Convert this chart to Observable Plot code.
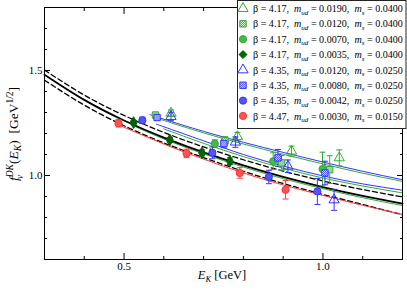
<!DOCTYPE html>
<html><head><meta charset="utf-8">
<script src="https://cdn.jsdelivr.net/npm/d3@7"></script>
<script src="https://cdn.jsdelivr.net/npm/@observablehq/plot@0.6"></script>
<style>
html,body{margin:0;padding:0;background:#fff;}
#wrap{position:relative;width:407px;height:291px;}
#legend{position:absolute;left:237px;top:0px;}
</style></head><body>
<svg width="0" height="0" style="position:absolute">
  <defs>
    <pattern id="chkGreen" width="2" height="2" patternUnits="userSpaceOnUse">
      <rect width="2" height="2" fill="#fff"/><rect width="1" height="1" fill="#33aa33"/><rect x="1" y="1" width="1" height="1" fill="#33aa33"/>
    </pattern>
    <pattern id="chkBlue" width="2" height="2" patternUnits="userSpaceOnUse">
      <rect width="2" height="2" fill="#fff"/><rect width="1" height="1" fill="#3333ff"/><rect x="1" y="1" width="1" height="1" fill="#3333ff"/>
    </pattern>
  </defs>
</svg>
<div id="wrap"></div>
<script>
// ---- legend text ----
const betas = ["4.17","4.17","4.17","4.17","4.35","4.35","4.35","4.47"];
const mud   = ["0.0190","0.0120","0.0070","0.0035","0.0120","0.0080","0.0042","0.0030"];
const ms    = ["0.0400","0.0400","0.0400","0.0400","0.0250","0.0250","0.0250","0.0150"];

// ---- data points (x = E_K, y = f, e = error) ----
const s0x = [0.618,0.785,0.921,1.041], s0y = [1.297,1.185,1.116,1.084], s0e = [0.015,0.02,0.024,0.038];
const s1x = [0.579,0.754,0.896,1.017], s1y = [1.288,1.165,1.06,1.028],  s1e = [0.012,0.02,0.035,0.066];
const s2x = [0.728,0.875,0.999],       s2y = [1.152,1.068,1.031],       s2e = [0.018,0.04,0.08];
const s3x = [0.524,0.615,0.696,0.766], s3y = [1.252,1.169,1.108,1.068], s3e = [0.01,0.012,0.014,0.016];
const s4x = [0.618,0.78,0.912,1.028],  s4y = [1.281,1.159,1.044,0.884], s4e = [0.02,0.025,0.03,0.05];
const s5x = [0.583,0.751,0.887,1.005], s5y = [1.276,1.152,1.084,1.012], s5e = [0.012,0.02,0.04,0.056];
const s6x = [0.546,0.722,0.864,0.986], s6y = [1.263,1.108,0.993,0.924], s6e = [0.015,0.028,0.032,0.062];
const s7x = [0.486,0.657,0.791,0.906], s7y = [1.249,1.105,1.012,0.932], s7e = [0.018,0.02,0.025,0.044];

// ---- fit curves ----
const cx = [0.3,0.4,0.5,0.6,0.7,0.8,0.9,1.0,1.1,1.2];
const blackY = [1.48,1.36,1.262,1.18,1.11,1.048,0.993,0.945,0.903,0.866];
const upperY = [1.502,1.383,1.286,1.205,1.136,1.075,1.021,0.974,0.933,0.898];
const lowerY = [1.454,1.335,1.237,1.155,1.085,1.02,0.962,0.91,0.862,0.813];
const blue1X = [0.565,0.6,0.7,0.8,0.9,1.0,1.1,1.2], blue1Y = [1.29,1.268,1.21,1.158,1.11,1.064,1.02,0.98];
const green1X = [0.58,0.6,0.7,0.8,0.9,1.0,1.1,1.2], green1Y = [1.275,1.262,1.203,1.15,1.101,1.055,1.011,0.972];
const blue2X = [0.58,0.6,0.7,0.8,0.9,1.0,1.1,1.2], blue2Y = [1.245,1.232,1.165,1.1,1.045,0.998,0.96,0.93];
const green2X = [0.6,0.7,0.8,0.9,1.0,1.1,1.2], green2Y = [1.222,1.153,1.09,1.035,0.988,0.95,0.917];
const green3X = [0.52,0.6,0.7,0.8,0.9,1.0,1.1,1.2], green3Y = [1.24,1.174,1.103,1.04,0.985,0.937,0.894,0.857];
const redX = [0.49,0.6,0.7,0.8,0.9,1.0,1.1,1.2], redY = [1.238,1.15,1.078,1.012,0.955,0.905,0.858,0.815];

// ---- ticks ----
const xMajor = [0.5, 1.0], xMinor = [0.4,0.6,0.7,0.8,0.9,1.1];
const yMajor = [1.0, 1.5], yMinor = [0.7,0.8,0.9,1.1,1.2,1.3,1.4,1.6,1.7];

const GREEN = "#33aa33", DKGREEN = "#006400", BLUE = "#3333ff", RED = "#ff3333";

const pts = (xs, ys, es) => xs.map((x, i) => ({x, y: ys[i], e: es[i]}));
const crv = (xs, ys) => xs.map((x, i) => ({x, y: ys[i]}));

const cap = {draw(ctx, size) { const r = Math.sqrt(size / Math.PI); ctx.moveTo(-r, 0); ctx.lineTo(r, 0); }};

const series = [
  {d: pts(s0x,s0y,s0e), c: GREEN, sym: "triangle", fill: "none", r: 3.8},
  {d: pts(s1x,s1y,s1e), c: GREEN, sym: "square", fill: "url(#chkGreen)", r: 3.6},
  {d: pts(s2x,s2y,s2e), c: GREEN, sym: "circle", fill: "#44bb44", r: 3.6},
  {d: pts(s3x,s3y,s3e), c: DKGREEN, sym: "diamond", fill: DKGREEN, r: 3.6},
  {d: pts(s4x,s4y,s4e), c: BLUE, sym: "triangle", fill: "none", r: 3.8},
  {d: pts(s5x,s5y,s5e), c: BLUE, sym: "square", fill: "url(#chkBlue)", r: 3.6},
  {d: pts(s6x,s6y,s6e), c: BLUE, sym: "circle", fill: "#5555ff", r: 3.6},
  {d: pts(s7x,s7y,s7e), c: RED, sym: "circle", fill: "#ff5555", r: 3.6}
];

const marks = [];
const lineOpt = (stroke, w, dash) => ({x: "x", y: "y", stroke, strokeWidth: w, curve: "natural", strokeDasharray: dash});
marks.push(Plot.line(crv(cx, upperY), lineOpt("black", 1.3, "5,3")));
marks.push(Plot.line(crv(cx, lowerY), lineOpt("black", 1.3, "5,3")));
marks.push(Plot.line(crv(blue1X, blue1Y), lineOpt(BLUE, 1)));
marks.push(Plot.line(crv(green1X, green1Y), lineOpt(GREEN, 1)));
marks.push(Plot.line(crv(blue2X, blue2Y), lineOpt(BLUE, 1)));
marks.push(Plot.line(crv(green2X, green2Y), lineOpt(GREEN, 1)));
marks.push(Plot.line(crv(green3X, green3Y), lineOpt(GREEN, 1)));
marks.push(Plot.line(crv(redX, redY), lineOpt(RED, 1)));
marks.push(Plot.line(crv(cx, blackY), lineOpt("black", 1.8)));

for (const s of series) {
  marks.push(Plot.ruleX(s.d, {x: "x", y1: d => d.y - d.e, y2: d => d.y + d.e, stroke: s.c, strokeWidth: 1}));
  marks.push(Plot.dot(s.d, {x: "x", y: d => d.y - d.e, symbol: cap, r: 3, stroke: s.c, strokeWidth: 1}));
  marks.push(Plot.dot(s.d, {x: "x", y: d => d.y + d.e, symbol: cap, r: 3, stroke: s.c, strokeWidth: 1}));
}
for (const s of series) {
  marks.push(Plot.dot(s.d, {x: "x", y: "y", symbol: s.sym, r: s.r, stroke: s.c, fill: s.fill, strokeWidth: 1}));
}

const fmt = d => d.toFixed(1);
const blank = () => "";
marks.push(
  Plot.axisX(xMajor, {anchor: "bottom", tickSize: -6, tickPadding: 9, tickFormat: fmt, label: null, fontSize: 11}),
  Plot.axisX(xMinor, {anchor: "bottom", tickSize: -3, tickFormat: blank, label: null}),
  Plot.axisX(xMajor, {anchor: "top", tickSize: -6, tickFormat: blank, label: null}),
  Plot.axisX(xMinor, {anchor: "top", tickSize: -3, tickFormat: blank, label: null}),
  Plot.axisY(yMajor, {anchor: "left", tickSize: -6, tickPadding: 8, tickFormat: fmt, label: null, fontSize: 11}),
  Plot.axisY(yMinor, {anchor: "left", tickSize: -3, tickFormat: blank, label: null}),
  Plot.axisY(yMajor, {anchor: "right", tickSize: -6, tickFormat: blank, label: null}),
  Plot.axisY(yMinor, {anchor: "right", tickSize: -3, tickFormat: blank, label: null}),
  Plot.frame({stroke: "black", strokeWidth: 1})
);

const chart = Plot.plot({
  width: 407, height: 291,
  marginLeft: 44, marginRight: 5, marginTop: 7, marginBottom: 32,
  x: {domain: [0.3, 1.2]},
  y: {domain: [0.6, 1.8]},
  style: {fontFamily: "'Liberation Serif', serif", fontSize: "11px", background: "#fff", color: "black"},
  marks
});
document.getElementById("wrap").appendChild(chart);

// axis titles with sub/superscripts
const NS = "http://www.w3.org/2000/svg";
function addText(svg, attrs, parts) {
  const t = document.createElementNS(NS, "text");
  for (const k in attrs) t.setAttribute(k, attrs[k]);
  t.setAttribute("font-family", "'Liberation Serif', serif");
  t.style.whiteSpace = "pre";
  for (const p of parts) {
    const s = document.createElementNS(NS, "tspan");
    s.textContent = p.t;
    for (const k in p) if (k !== "t") s.setAttribute(k, p[k]);
    t.appendChild(s);
  }
  svg.appendChild(t);
  return t;
}
addText(chart, {"text-anchor": "middle", "font-size": 13.5, transform: "translate(18,134) rotate(-90)"}, [
  {t: "f", "font-style": "italic"},
  {t: "DK", "font-style": "italic", "font-size": 9.5, dy: -5.5},
  {t: "v", "font-style": "italic", "font-size": 9.5, dx: -15, dy: 10},
  {t: "(", dx: 11, dy: -4.5},
  {t: "E", "font-style": "italic"},
  {t: "K", "font-style": "italic", "font-size": 9.5, dy: 3},
  {t: ")  [GeV", dy: -3},
  {t: "1/2", "font-size": 9.5, dy: -5.5},
  {t: "]", dy: 5.5}
]);
addText(chart, {"text-anchor": "middle", "font-size": 12.5, x: 222, y: 279}, [
  {t: "E", "font-style": "italic"},
  {t: "K", "font-style": "italic", "font-size": 8.5, dy: 3},
  {t: " [GeV]", dy: -3}
]);

// legend
const lg = document.createElementNS(NS, "svg");
lg.setAttribute("id", "legend");
lg.setAttribute("width", 170); lg.setAttribute("height", 130);
const box = document.createElementNS(NS, "rect");
box.setAttribute("x", 0.5); box.setAttribute("y", 0.5); box.setAttribute("width", 168.5); box.setAttribute("height", 128);
box.setAttribute("fill", "#fff"); box.setAttribute("stroke", "#222"); box.setAttribute("stroke-width", 1);
lg.appendChild(box);
document.getElementById("wrap").appendChild(lg);
const symPaths = {triangle: d3.symbolTriangle, square: d3.symbolSquare, circle: d3.symbolCircle, diamond: d3.symbolDiamond2};
series.forEach((s, i) => {
  const cy = 8.5 + 15.35 * i;
  const p = document.createElementNS(NS, "path");
  p.setAttribute("d", d3.symbol(symPaths[s.sym], s.r * s.r * Math.PI)());
  p.setAttribute("transform", `translate(6,${cy})`);
  p.setAttribute("fill", s.fill); p.setAttribute("stroke", s.c); p.setAttribute("stroke-width", 1);
  lg.appendChild(p);
  const t = addText(lg, {x: 16, y: cy + 3.6, "font-size": 10}, [
    {t: `β = ${betas[i]},  `},
    {t: "m", "font-style": "italic"},
    {t: "ud", "font-style": "italic", "font-size": "0.7em", dy: 2.5},
    {t: ` = ${mud[i]},  `, dy: -2.5},
    {t: "m", "font-style": "italic"},
    {t: "s", "font-style": "italic", "font-size": "0.7em", dy: 2.5},
    {t: ` = ${ms[i]}`, dy: -2.5}
  ]);
  const len = t.getComputedTextLength();
  if (len > 0) t.setAttribute("font-size", (10 * 150 / len).toFixed(2));
});
</script></body></html>
